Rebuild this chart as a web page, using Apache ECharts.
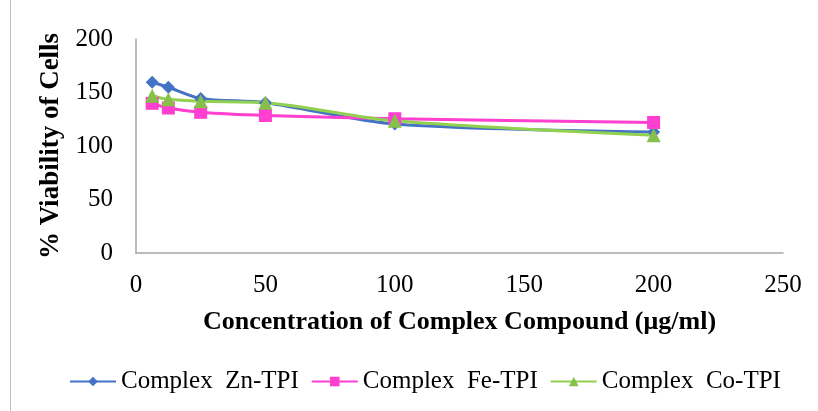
<!DOCTYPE html>
<html><head><meta charset="utf-8">
<script src="https://cdn.jsdelivr.net/npm/echarts@6/dist/echarts.min.js"></script>
<style>html,body{margin:0;padding:0;background:#fff}#c{width:818px;height:411px}</style>
</head><body><div id="c"></div>
<script>
const concentrations = [6.25, 12.5, 25, 50, 100, 200];
const znTPI = [159.6, 154.9, 144.5, 140.5, 120.5, 113];
const feTPI = [139.9, 135.5, 131.5, 128.5, 125.5, 122];
const coTPI = [147, 143.6, 141.8, 140.5, 123.5, 110];
const seriesNames = ['Complex  Zn-TPI', 'Complex  Fe-TPI', 'Complex  Co-TPI'];
const xTitle = 'Concentration of Complex Compound (\u03bcg/ml)';
const yTitle = '% Viability of Cells';

const font = 'Liberation Serif';
const chart = echarts.init(document.getElementById('c'));
function pairs(v){ return concentrations.map((x,i)=>[x, v[i]]); }
function mk(name, data, color, symbol, size, mcolor){
  return {name, type:'line', data:pairs(data), smooth:0.3, symbol, symbolSize:size,
    lineStyle:{color, width:3}, itemStyle:{color:mcolor||color}, z: 2};
}
chart.setOption({
  animation:false,
  grid:{left:136, right:35, top:39, bottom:158, containLabel:false},
  xAxis:{type:'value', min:0, max:250, interval:50,
    axisLine:{lineStyle:{color:'#a6a6a6', width:1.5}}, axisTick:{show:false}, splitLine:{show:false},
    axisLabel:{color:'#000', fontFamily:font, fontSize:25, margin:20},
    name:xTitle, nameLocation:'middle', nameGap:56,
    nameTextStyle:{color:'#000', fontFamily:font, fontSize:26, fontWeight:'bold'}},
  yAxis:{type:'value', min:0, max:200, interval:50,
    axisLine:{show:true, lineStyle:{color:'#a6a6a6', width:1.5}}, axisTick:{show:false}, splitLine:{show:false},
    axisLabel:{color:'#000', fontFamily:font, fontSize:25, margin:23},
    name:yTitle, nameLocation:'middle', nameGap:61, nameRotate:90,
    nameTextStyle:{color:'#000', fontFamily:font, fontSize:27, fontWeight:'bold'}},
  legend:{bottom:12, left:64, itemWidth:46, itemHeight:12, itemGap:12,
    textStyle:{color:'#000', fontFamily:font, fontSize:25}, data:seriesNames},
  graphic:[{type:'line', shape:{x1:10.5,y1:0,x2:10.5,y2:411}, style:{stroke:'#bfbfbf', lineWidth:1}}],
  series:[
    mk(seriesNames[0], znTPI, '#4472c4', 'diamond', 13),
    mk(seriesNames[1], feTPI, '#ff3fcf', 'rect', 13),
    mk(seriesNames[2], coTPI, '#92d050', 'triangle', 14, '#86c04a')
  ]
});
</script></body></html>
